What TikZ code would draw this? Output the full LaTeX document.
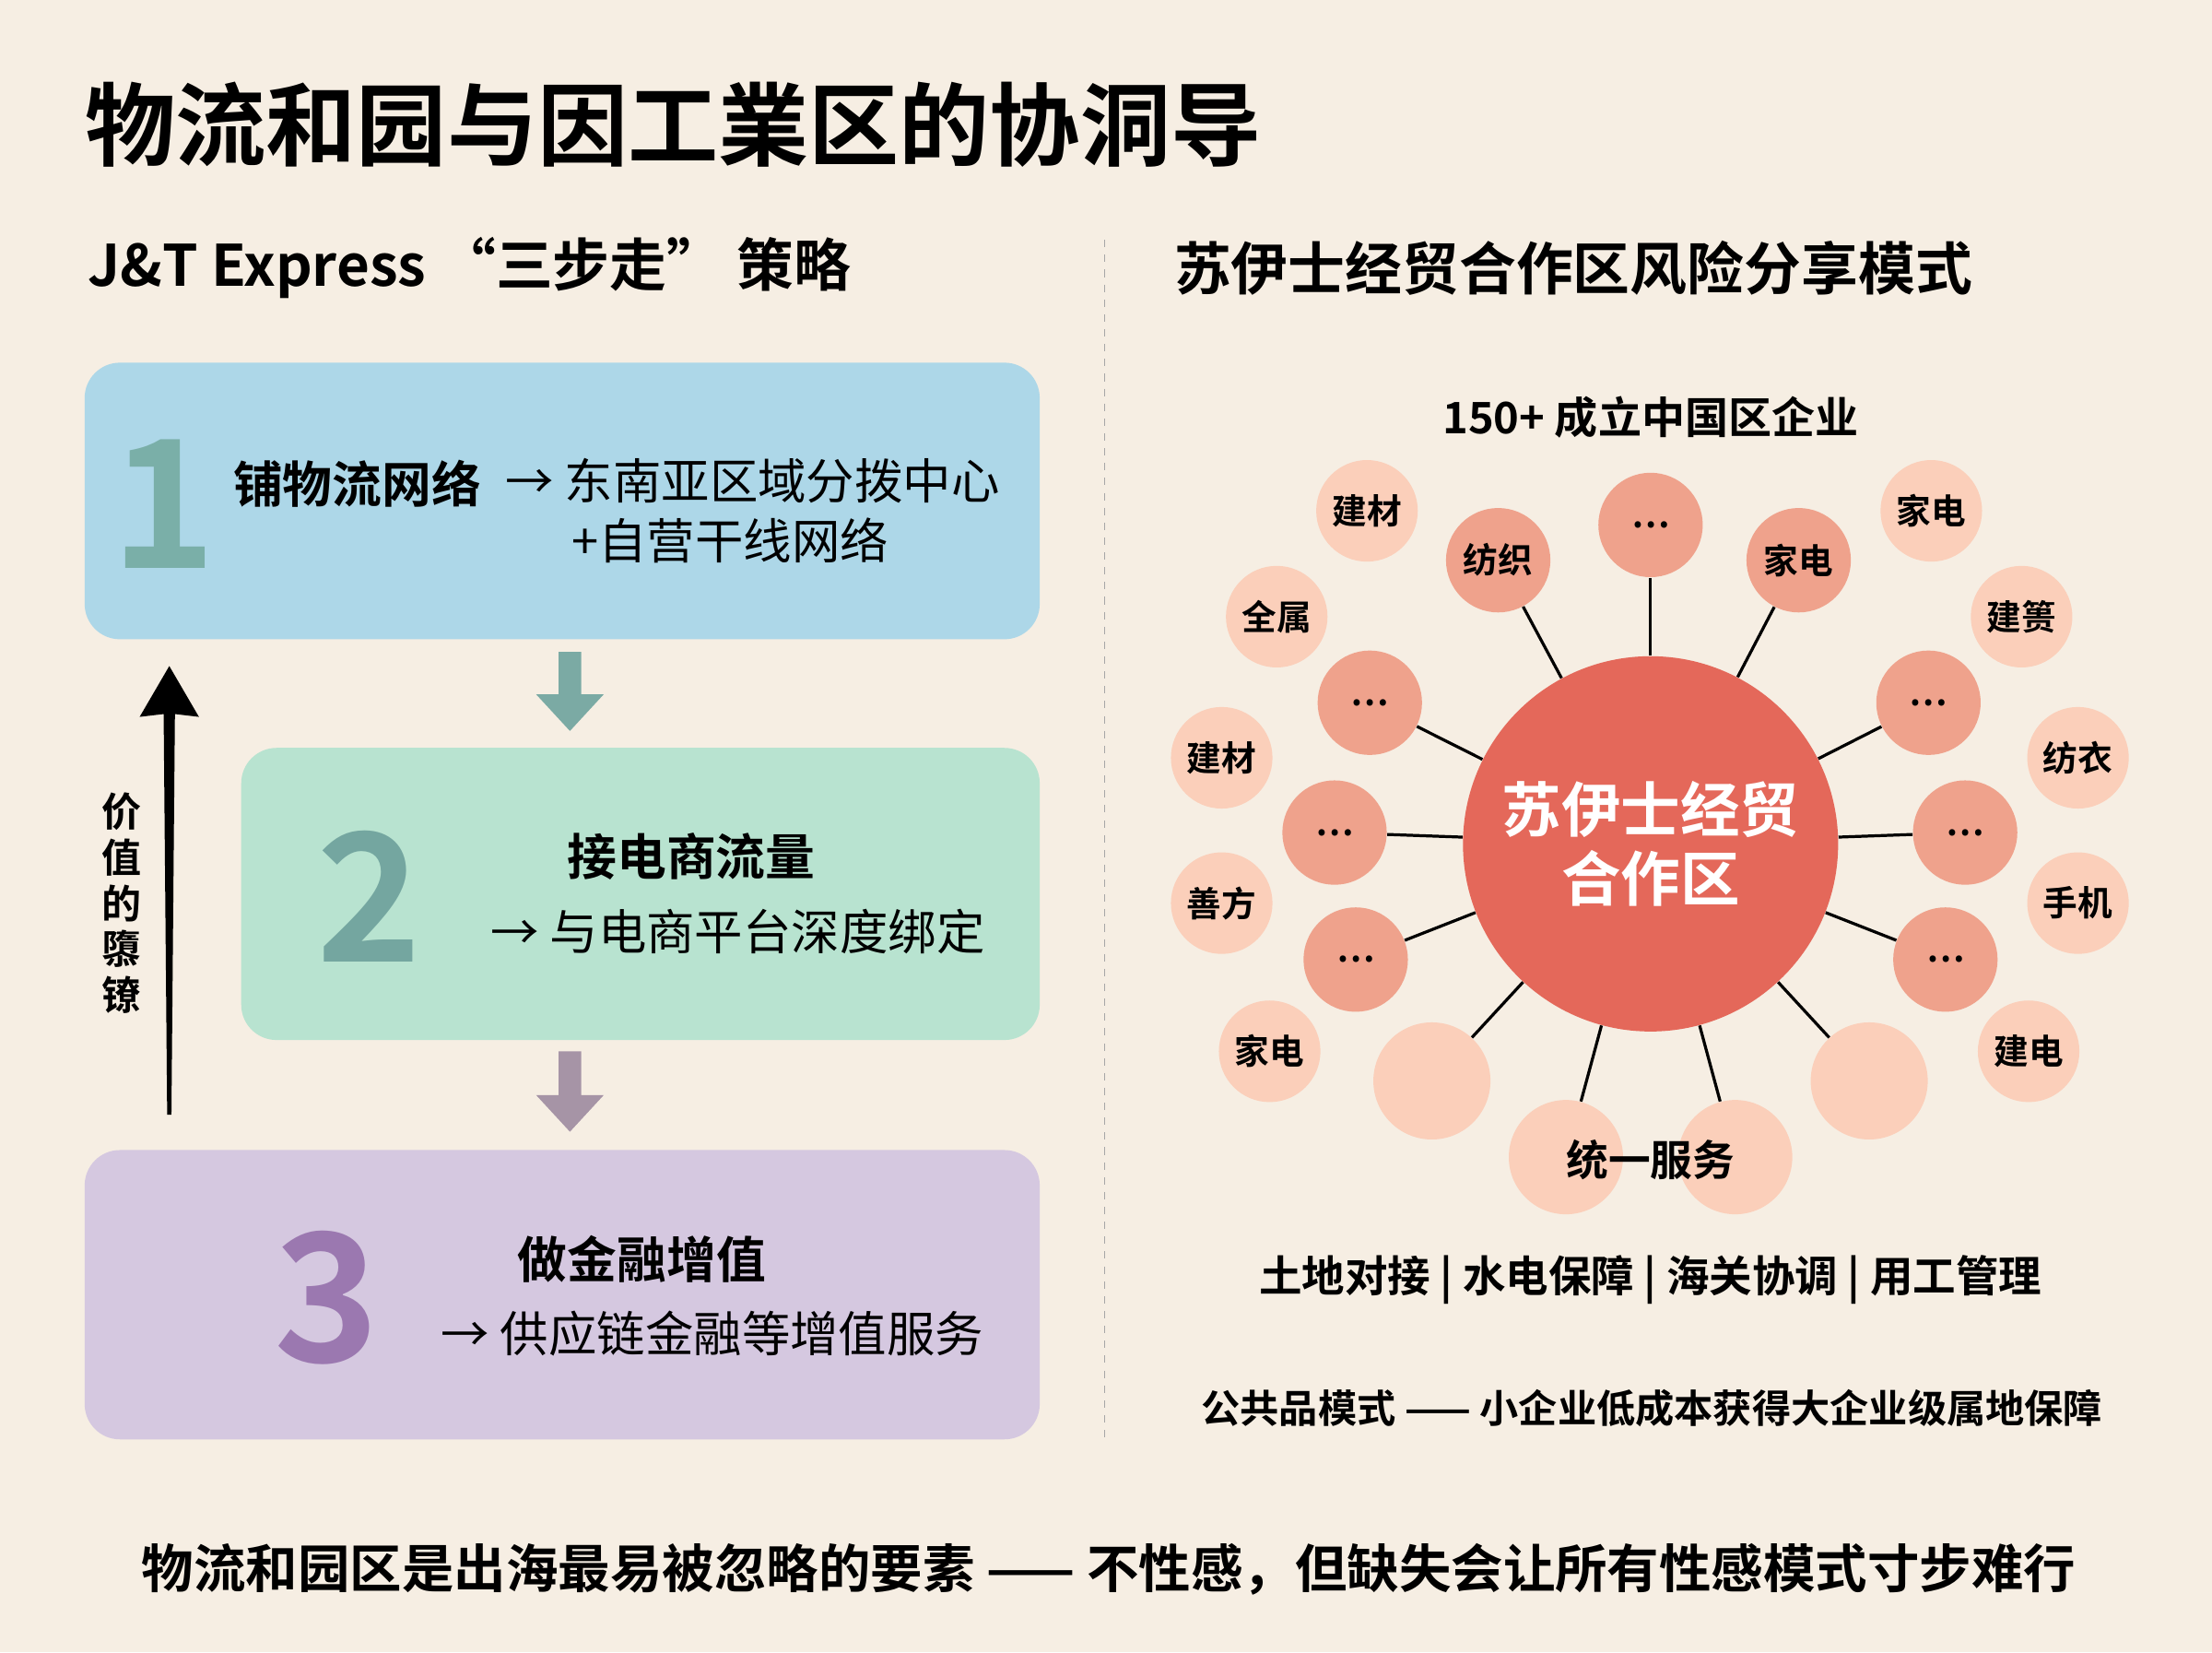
\documentclass[tikz,border=0pt]{standalone}
\usepackage{fontspec}
\setmainfont{Noto Sans CJK SC}[BoldFont={Noto Sans CJK SC Bold}]
\setsansfont{Noto Sans CJK SC}[BoldFont={Noto Sans CJK SC Bold}]
\definecolor{bg}{HTML}{F6EEE3}
\definecolor{b1}{HTML}{ADD7E8}
\definecolor{b2}{HTML}{B8E3D0}
\definecolor{b3}{HTML}{D5C8E0}
\definecolor{n1}{HTML}{7AAFA8}
\definecolor{n3}{HTML}{9B78B0}
\definecolor{cen}{HTML}{E4685A}
\definecolor{mid}{HTML}{EFA28C}
\definecolor{lt}{HTML}{FBCFBA}
\begin{document}
\begin{tikzpicture}[x=0.02cm,y=-0.02cm,
 tx/.style={font=\bfseries\fontsize{20}{24}\selectfont,anchor=west,inner sep=0},
 txn/.style={font=\fontsize{19.5}{23}\selectfont,inner sep=0},
 big/.style={font=\bfseries\fontsize{72}{72}\selectfont,inner sep=0},
 mc/.style={circle,fill=mid,minimum size=1.48cm,inner sep=0,font=\bfseries\fontsize{14}{14}\selectfont},
 lc/.style={circle,fill=lt,minimum size=1.44cm,inner sep=0,font=\bfseries\fontsize{14}{14}\selectfont},
 spoke/.style={line width=1.2pt,black}]
\fill[bg] (0,0) rectangle (1568,1171);
\node[anchor=west,inner sep=0,font=\bfseries\fontsize{36.5}{40}\selectfont] (title) at (60,88) {物流和园与因工業区的协洞导};
\node[anchor=west,inner sep=0,font=\bfseries\fontsize{23}{26}\selectfont] (lt1) at (62,190) {J\&T Express “三步走” 策略};
\node[anchor=west,inner sep=0,font=\bfseries\fontsize{23}{26}\selectfont] (rt1) at (832,190) {苏伊士经贸合作区风险分享模式};
\draw[gray!70,dashed,line width=0.6pt] (783,170) -- (783,1022);
% boxes
\fill[b1,rounded corners=0.5cm] (60,257) rectangle (737,453);
\fill[b2,rounded corners=0.5cm] (171,530) rectangle (737,737);
\fill[b3,rounded corners=0.5cm] (60,815) rectangle (737,1020);
\node[big,text=n1] (n1) at (116,357) {1};
\node[big,text=n1!95!black] (n2) at (262,635) {2};
\node[big,text=n3] (n3) at (232,920) {3};
\node[tx] (t1a) at (165,343) {铺物流网络};
\node[txn,anchor=west] (t1b) at (358,341) {→ 东南亚区域分拨中心};
\node[txn,anchor=west] (t1c) at (405,383) {+自营干线网络};
\node[tx,anchor=center] (t2a) at (490,607) {接电商流量};
\node[txn] (t2b) at (523,660) {→ 与电商平台深度绑定};
\node[tx,anchor=center] (t3a) at (455,892) {做金融增值};
\node[txn] (t3b) at (505,945) {→ 供应链金融等增值服务};
% down arrows
\fill[n1!90!gray] (396,462) -- (412,462) -- (412,492) -- (428,492) -- (404,518) -- (380,492) -- (396,492) -- cycle;
\fill[gray!80!violet!70] (396,745) -- (412,745) -- (412,776) -- (428,776) -- (404,802) -- (380,776) -- (396,776) -- cycle;
% up arrow
\fill[black] (120,472) -- (141,508) -- (124,506) -- (121.5,790) -- (118.5,790) -- (116,506) -- (99,508) -- cycle;
\node[align=center,inner sep=0,font=\bfseries\fontsize{16}{18.5}\selectfont] (vt) at (86,640) {价\\值\\的\\隳\\镣};
% right diagram
\node[inner sep=0,font=\bfseries\fontsize{17.5}{20}\selectfont] (h150) at (1170,296) {150+ 成立中国区企业};
\node[lc] (o1) at (969,362) {建材};
\node[lc] (o2) at (1369,362) {家电};
\node[lc] (o3) at (905,437) {全属};
\node[lc] (o4) at (1433,437) {建篑};
\node[lc] (o5) at (866,537) {建材};
\node[lc] (o6) at (1473,537) {纺衣};
\node[lc] (o7) at (866,640) {善方};
\node[lc] (o8) at (1473,640) {手机};
\node[lc] (o9) at (900,745) {家电};
\node[lc] (o10) at (1438,745) {建电};
\node[lc,minimum size=1.66cm] (e1) at (1015,766) {};
\node[lc,minimum size=1.66cm] (e2) at (1325,766) {};
\node[lc,minimum size=1.62cm] (s1) at (1110,820) {};
\node[lc,minimum size=1.62cm] (s2) at (1230,820) {};
\node[inner sep=0,font=\bfseries\fontsize{17}{20}\selectfont] (svc) at (1170,822) {统一服务};
\node[circle,fill=cen,minimum size=5.32cm,inner sep=0,align=center,text=white,font=\bfseries\fontsize{24}{28}\selectfont] (c) at (1170,598) {苏伊士经贸\\合作区};
\node[mc] (m1) at (1170,372) {…};
\node[mc] (m2) at (1062,397) {纺织};
\node[mc] (m3) at (1275,397) {家电};
\node[mc] (m4) at (971,498) {…};
\node[mc] (m5) at (1367,498) {…};
\node[mc] (m6) at (946,590) {…};
\node[mc] (m7) at (1393,590) {…};
\node[mc] (m8) at (961,680) {…};
\node[mc] (m9) at (1379,680) {…};
\foreach \m in {m1,m2,m3,m4,m5,m6,m7,m8,m9} \draw[spoke] (c) -- (\m);
\draw[spoke] (c) -- (e1); \draw[spoke] (c) -- (e2);
\draw[spoke] (c) -- (s1); \draw[spoke] (c) -- (s2);
\node[inner sep=0,font=\bfseries\fontsize{17.3}{20}\selectfont] (l1) at (1170,907) {土地对接 | 水电保障 | 海关协调 | 用工管理};
\node[inner sep=0,font=\bfseries\fontsize{15.7}{18}\selectfont] (l2) at (1171,998) {公共品模式 —— 小企业低成本获得大企业级属地保障};
\node[inner sep=0,font=\bfseries\fontsize{21}{24}\selectfont] (bot) at (786,1112) {物流和园区是出海最易被忽略的要素 —— 不性感，但缺失会让所有性感模式寸步难行};
\end{tikzpicture}
\end{document}
